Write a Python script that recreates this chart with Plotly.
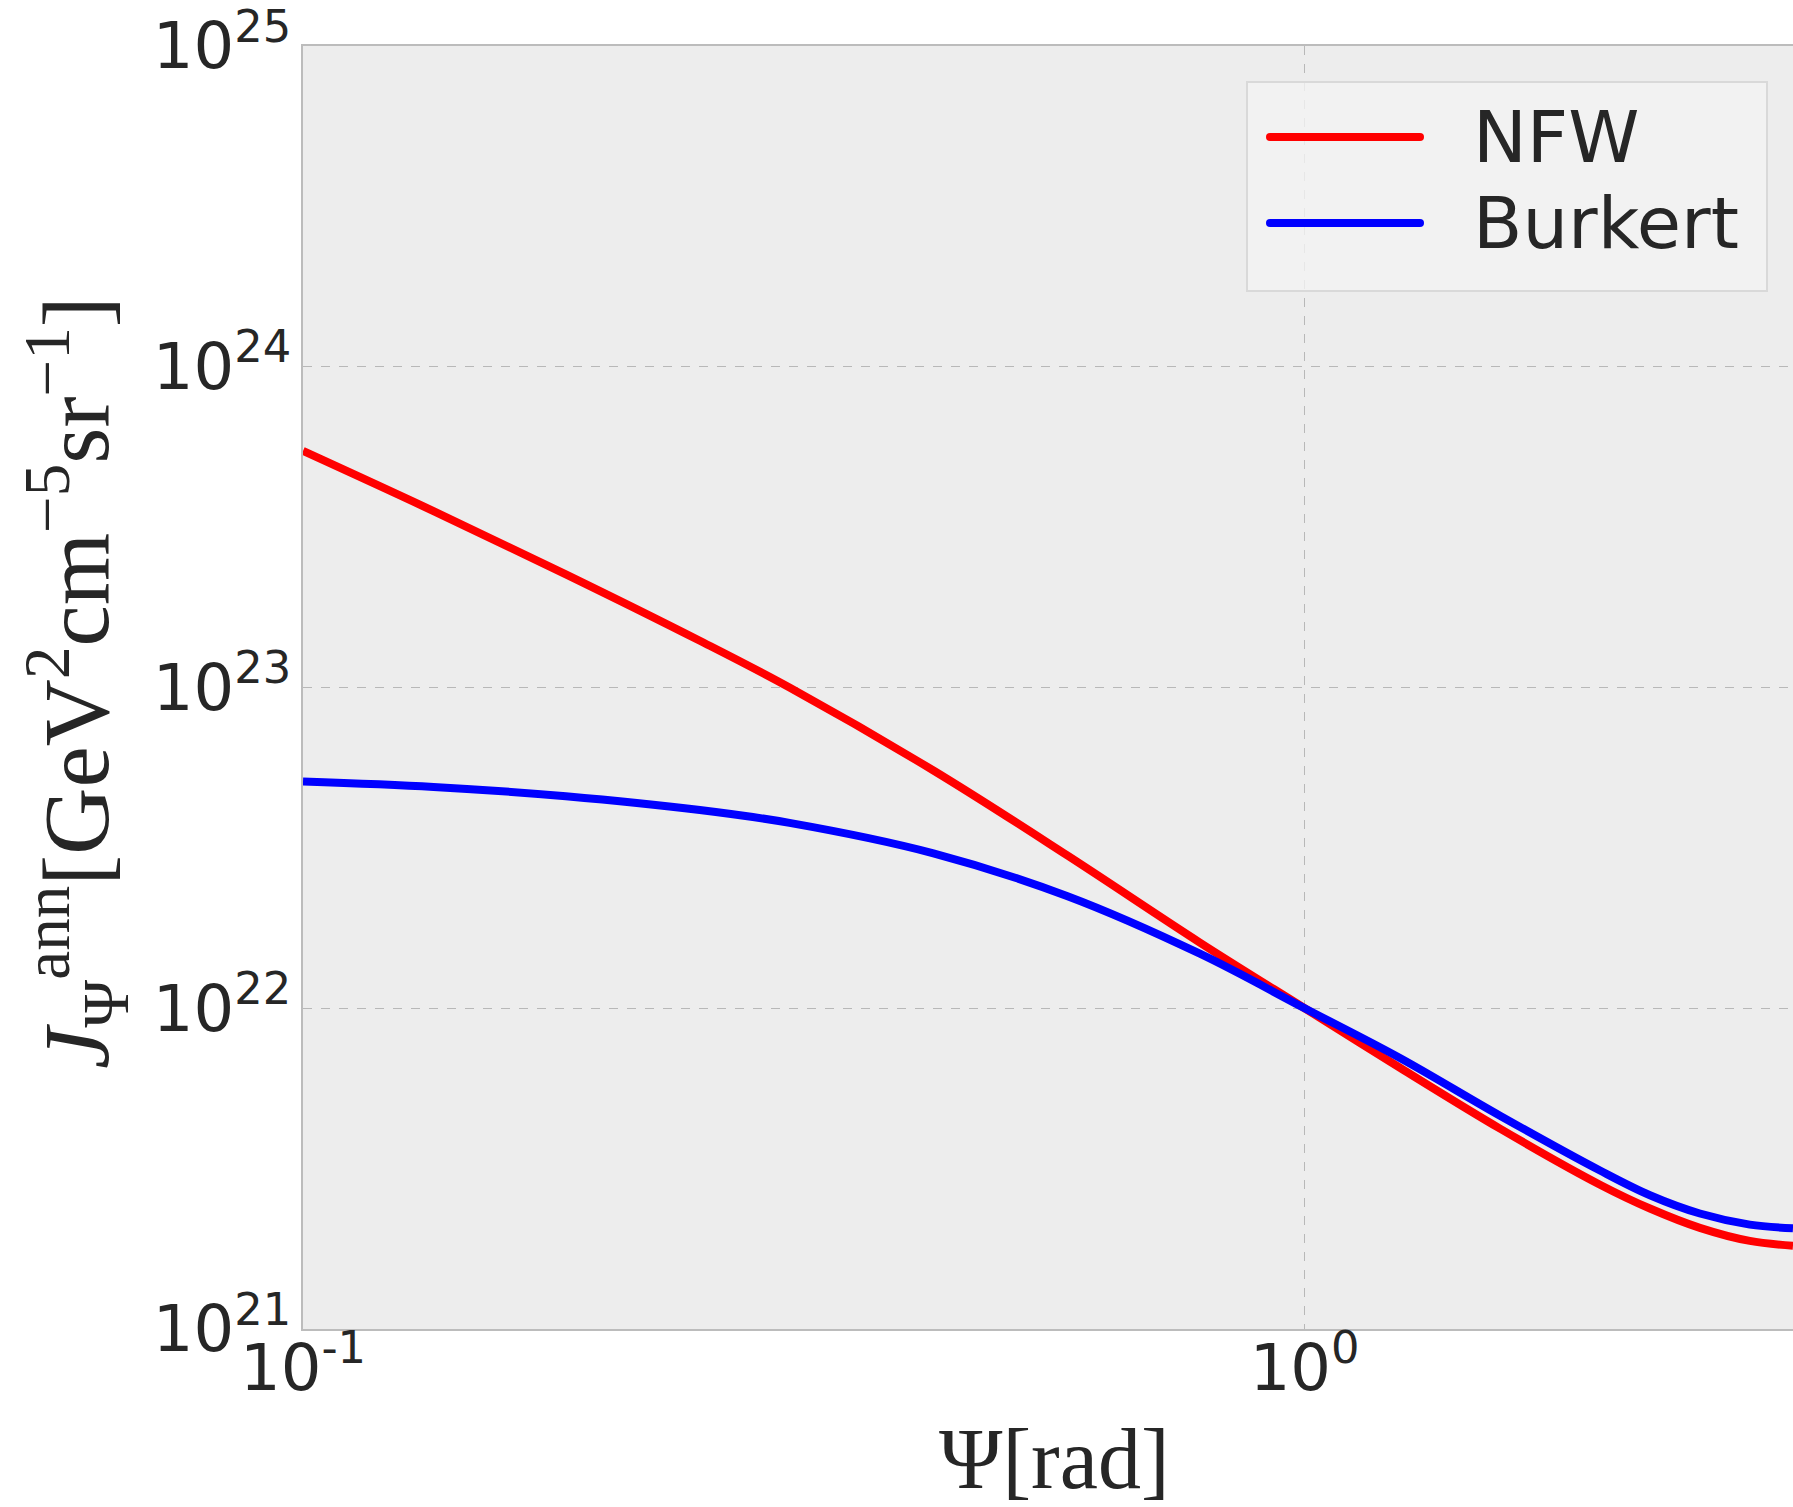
import plotly.graph_objects as go

# Angle from the Galactic centre [rad]
psi = [0.1, 0.135, 0.183, 0.249, 0.306, 0.426, 0.579, 0.786,
       1.0, 1.245, 1.567, 1.972, 2.212, 2.481, 2.783, 3.073]

# Annihilation J-factor [GeV^2 cm^-5 sr^-1]
j_nfw = [5.464e23, 3.547e23, 2.254e23, 1.399e23, 1.0e23, 5.512e22, 3.002e22,
         1.603e22, 1.0e22, 6.523e21, 4.213e21, 2.818e21, 2.375e21, 2.067e21,
         1.882e21, 1.818e21]
j_burkert = [5.093e22, 4.898e22, 4.581e22, 4.150e22, 3.784e22, 3.041e22,
             2.239e22, 1.479e22, 1.0e22, 6.998e21, 4.624e21, 3.119e21,
             2.612e21, 2.291e21, 2.116e21, 2.061e21]

x_tickvals = [0.1, 1]
x_ticktext = ["10<sup>-1</sup>", "10<sup>0</sup>"]
y_tickvals = [1e21, 1e22, 1e23, 1e24, 1e25]
y_ticktext = ["10<sup>21</sup>", "10<sup>22</sup>", "10<sup>23</sup>",
              "10<sup>24</sup>", "10<sup>25</sup>"]

series = [("NFW", j_nfw, "#FF0000"), ("Burkert", j_burkert, "#0000FF")]

W, H = 1793, 1507
L, R, T, B = 303, 0, 46, 178
PW, PH = W - L - R, H - T - B


def px_to_paper(px, py):
    return (px - L) / PW, (H - B - py) / PH


TEXT = "#262626"
SANS = "DejaVu Sans"
SERIF = "Liberation Serif"

fig = go.Figure()
for name, vals, color in series:
    fig.add_trace(go.Scatter(
        x=psi, y=vals, name=name, mode="lines",
        line=dict(color=color, width=8, shape="spline", smoothing=1.0),
        showlegend=False,
    ))

axis_common = dict(
    type="log",
    showline=True, linecolor="#BCBCBC", linewidth=2,
    showgrid=True, gridcolor="#B8B8B8", gridwidth=1, griddash="dash",
    ticks="", tickfont=dict(family=SANS, size=64, color=TEXT),
    zeroline=False, ticklabeloverflow="allow",
)

fig.update_xaxes(
    **axis_common, range=[-1, 0.4876], mirror=True,
    tickmode="array", tickvals=x_tickvals, ticktext=x_ticktext,
    ticklabelstandoff=-18,
)
fig.update_yaxes(
    **axis_common, range=[21, 25.00001], mirror=False,
    tickmode="array", tickvals=y_tickvals, ticktext=y_ticktext,
    ticklabelstandoff=-3,
)

annotations = []
# axis titles
ax, ay = px_to_paper(1054, 1459)
annotations.append(dict(
    text="Ψ[rad]", x=ax, y=ay, xref="paper", yref="paper",
    xanchor="center", yanchor="middle", showarrow=False,
    font=dict(family=SERIF, size=86, color=TEXT),
))
ax, ay = px_to_paper(76, 683)
annotations.append(dict(
    text="<i>J</i><sub>Ψ</sub><sup>ann</sup>[GeV<sup>2</sup>cm<sup>−5</sup>sr<sup>−1</sup>]",
    x=ax, y=ay, xref="paper", yref="paper", textangle=-90,
    xanchor="center", yanchor="middle", showarrow=False,
    font=dict(family=SERIF, size=93, color=TEXT),
))

# legend box with line samples and labels
shapes = []
bx0, by0 = px_to_paper(1247, 291)
bx1, by1 = px_to_paper(1767, 82)
shapes.append(dict(
    type="rect", xref="paper", yref="paper", x0=bx0, x1=bx1, y0=by0, y1=by1,
    fillcolor="rgba(243,243,243,0.8)", line=dict(color="#D9D9D9", width=2),
    layer="above",
))
for i, (name, vals, color) in enumerate(series):
    ly = 137 + i * 86
    lx0, lyp = px_to_paper(1270, ly)
    lx1, _ = px_to_paper(1420, ly)
    shapes.append(dict(
        type="line", xref="paper", yref="paper", x0=lx0, x1=lx1, y0=lyp, y1=lyp,
        line=dict(color=color, width=8), layer="above",
    ))
    # rounded line ends
    for cx in (lx0, lx1):
        shapes.append(dict(
            type="circle", xref="paper", yref="paper",
            xsizemode="pixel", ysizemode="pixel", xanchor=cx, yanchor=lyp,
            x0=-4, x1=4, y0=-4, y1=4,
            fillcolor=color, line=dict(width=0), layer="above",
        ))
    tx, ty = px_to_paper(1471, ly)
    annotations.append(dict(
        text=name, x=tx, y=ty, xref="paper", yref="paper",
        xanchor="left", yanchor="middle", showarrow=False,
        font=dict(family=SANS, size=72, color=TEXT),
    ))

fig.update_layout(
    width=W, height=H,
    margin=dict(l=L, r=R, t=T, b=B, pad=0),
    paper_bgcolor="white", plot_bgcolor="#EDEDED",
    shapes=shapes, annotations=annotations,
    showlegend=False,
)

fig.write_html("out.html")
